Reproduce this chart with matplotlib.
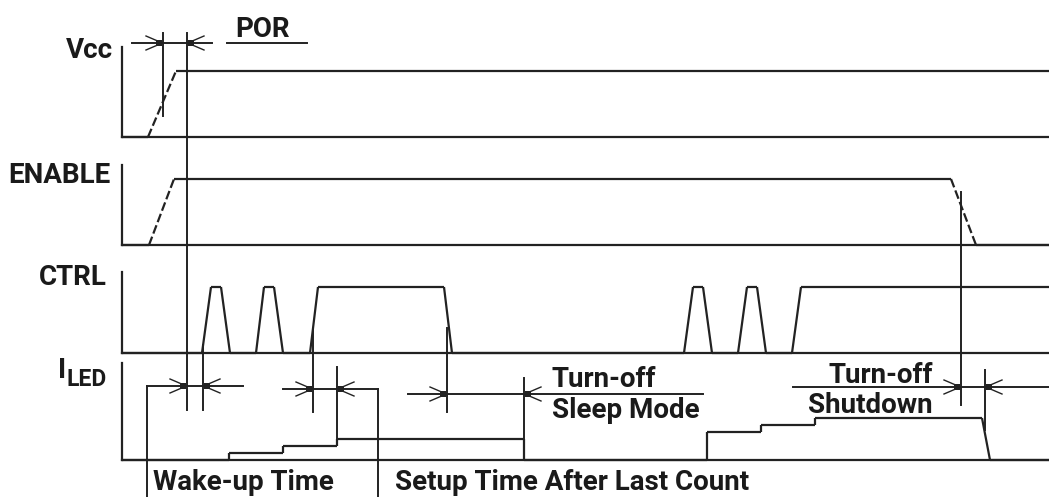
import matplotlib
matplotlib.use('Agg')
import matplotlib.pyplot as plt

# timing diagram, coordinates in picture pixels (x = time axis)
x_start = 122
x_end = 1049
row_base = {'Vcc': 137, 'ENABLE': 245, 'CTRL': 353, 'ILED': 460}
row_top = {'Vcc': 47, 'ENABLE': 165, 'CTRL': 272, 'ILED': 363}
high = 66      # height of a logic high
led_step = 7   # height of one LED current step

# signals: breakpoints (time) and level (0/1, or step count for I_LED)
vcc_t = [122, 148, 176, 1049]
vcc_lv = [0, 0, 1, 1]
en_t = [122, 149, 174, 951, 976, 1049]
en_lv = [0, 0, 1, 1, 0, 0]
ctrl_t = [122, 202, 211, 221, 230, 256, 264, 274, 283, 310, 318, 444, 452,
          684, 693, 703, 712, 738, 747, 757, 766, 792, 801, 1049]
ctrl_lv = [0, 0, 1, 1, 0, 0, 1, 1, 0, 0, 1, 1, 0,
           0, 1, 1, 0, 0, 1, 1, 0, 0, 1, 1]
led_t = [122, 229, 229, 283, 283, 337, 337, 524, 524, 707, 707, 761, 761,
         815, 815, 982, 990, 1049]
led_lv = [0, 0, 1, 1, 2, 2, 3, 3, 0, 0, 4, 4, 5, 5, 6, 6, 0, 0]

# marker lines: x, y from, y to
mark_x = [163, 187, 203, 313, 337, 447, 524, 961, 985, 147, 378]
mark_y0 = [33, 33, 345, 328, 367, 328, 378, 192, 370, 386, 389]
mark_y1 = [116, 410, 410, 412, 439, 412, 460, 405, 430, 497, 497]

# dimension lines: y, x from, x to, tip of right arrow, tip of left arrow
dim_y = [43, 386, 389, 394, 387]
dim_x0 = [132, 147, 283, 408, 793]
dim_x1 = [212, 243, 378, 703, 1049]
dim_tip_r = [163, 187, 313, 447, 961]
dim_tip_l = [187, 203, 337, 524, 985]

LC = '#222222'
plt.rcParams['font.family'] = ['Roboto', 'DejaVu Sans']
plt.rcParams['font.weight'] = 'bold'

fig = plt.figure(figsize=(10.49, 4.97), dpi=100)
ax = fig.add_axes([0, 0, 1, 1])
ax.set_xlim(0, 1049)
ax.set_ylim(497, 0)
ax.axis('off')

# axes of each row
for r in row_base:
    ax.plot([x_start, x_start], [row_top[r], row_base[r]], color=LC, lw=1.6)
    ax.plot([x_start, x_end], [row_base[r], row_base[r]], color=LC, lw=1.6)

def wave(t, lv, base, unit):
    y = [base - v * unit for v in lv]
    for i in range(len(t) - 1):
        # slow ramps (supply / enable) look dashed in the original
        slow = (t[i + 1] - t[i]) > 15 and lv[i + 1] != lv[i]
        ax.plot(t[i:i + 2], y[i:i + 2], color=LC, lw=1.6,
                ls=(0, (4, 1.5)) if slow else '-', solid_capstyle='butt')

wave(vcc_t, vcc_lv, row_base['Vcc'], high)
wave(en_t, en_lv, row_base['ENABLE'], high)
wave(ctrl_t, ctrl_lv, row_base['CTRL'], high)
wave(led_t, led_lv, row_base['ILED'], led_step)

for x, y0, y1 in zip(mark_x, mark_y0, mark_y1):
    ax.plot([x, x], [y0, y1], color=LC, lw=1.4)

def head(x, y, d):
    # d = +1 arrow pointing right, -1 pointing left
    L, W = 17, 7
    ax.plot([x - d * L, x - d * 3], [y - W, y - 1], color=LC, lw=1.0)
    ax.plot([x - d * L, x - d * 3], [y + W, y + 1], color=LC, lw=1.0)
    ax.plot([x - d * 4], [y], marker='s', ms=4, color=LC, mew=0)

for y, x0, x1, tr, tl in zip(dim_y, dim_x0, dim_x1, dim_tip_r, dim_tip_l):
    ax.plot([x0, x1], [y, y], color=LC, lw=1.4)
    head(tr, y, 1)
    head(tl, y, -1)

# POR underline
ax.plot([227, 307], [43, 43], color=LC, lw=1.4)

fs = 20
TC = '#1a1a1a'
ax.text(113, 58, 'Vcc', ha='right', va='baseline', fontsize=fs, color=TC)
ax.text(110, 183, 'ENABLE', ha='right', va='baseline', fontsize=fs, color=TC)
ax.text(107, 285, 'CTRL', ha='right', va='baseline', fontsize=fs, color=TC)
ax.text(58, 378, 'I', ha='left', va='baseline', fontsize=fs, color=TC)
ax.text(67, 386, 'LED', ha='left', va='baseline', fontsize=16.5, color=TC)
ax.text(235, 37, 'POR', ha='left', va='baseline', fontsize=fs, color=TC)
ax.text(552, 387, 'Turn-off', ha='left', va='baseline', fontsize=fs, color=TC)
ax.text(552, 418, 'Sleep Mode', ha='left', va='baseline', fontsize=fs, color=TC)
ax.text(933, 383, 'Turn-off', ha='right', va='baseline', fontsize=fs, color=TC)
ax.text(933, 413, 'Shutdown', ha='right', va='baseline', fontsize=fs, color=TC)
ax.text(153, 490, 'Wake-up Time', ha='left', va='baseline', fontsize=fs, color=TC)
ax.text(395, 490, 'Setup Time After Last Count', ha='left', va='baseline',
        fontsize=fs, color=TC)

fig.savefig('out.png', dpi=100)
